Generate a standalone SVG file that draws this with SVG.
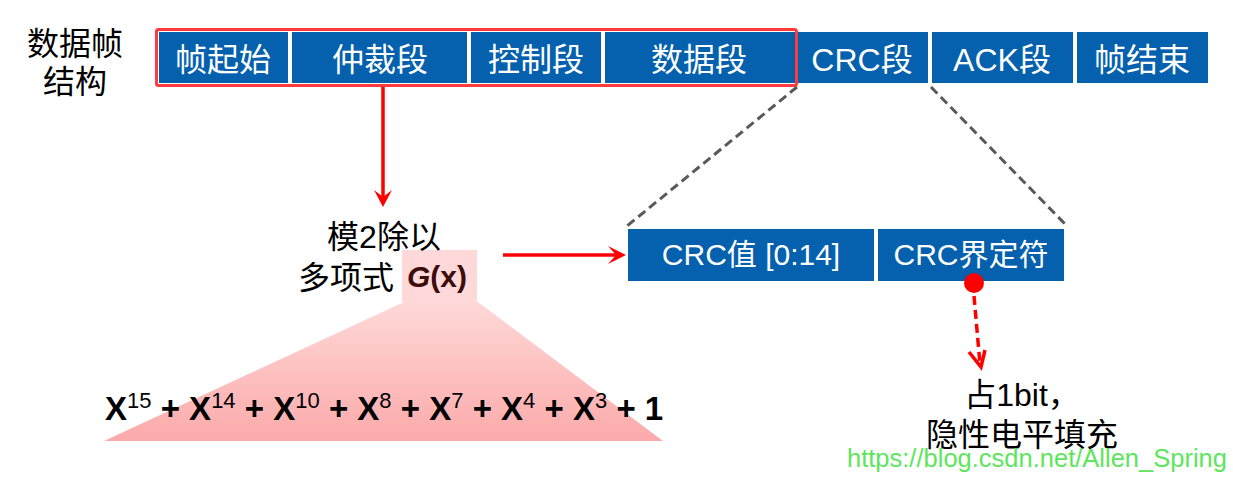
<svg xmlns="http://www.w3.org/2000/svg" width="1233" height="482" viewBox="0 0 1233 482">
<defs>
<style>
text{font-family:"Liberation Sans","Noto Sans CJK SC",sans-serif;}
.lbl{font-size:32px;fill:#000;text-anchor:middle;}
.bx{fill:#0561AE;}
.bt{font-size:32px;fill:#fff;text-anchor:middle;}
.bt2{font-size:30px;fill:#fff;text-anchor:middle;}
.gray{stroke:#595959;stroke-width:3;stroke-dasharray:9 5;fill:none;}
.red{stroke:#ff0000;stroke-width:3.5;fill:none;}
.poly{font-size:33px;font-weight:bold;fill:#000;}
.sup{font-size:22px;font-weight:normal;}
</style>
<linearGradient id="pinkg" x1="0" y1="0" x2="0" y2="1">
<stop offset="0" stop-color="#ffd8d8"/>
<stop offset="1" stop-color="#fbaaaa"/>
</linearGradient>
</defs>
<rect width="1233" height="482" fill="#fff"/>

<g id="title">
<text class="lbl" x="75" y="55">数据帧</text>
<text class="lbl" x="75" y="93">结构</text>
</g>

<g id="frame-fields">
<g id="f-sof"><rect class="bx" x="159" y="32" width="129" height="51"/><text class="bt" x="223" y="71">帧起始</text></g>
<g id="f-arb"><rect class="bx" x="292" y="32" width="175" height="51"/><text class="bt" x="380" y="71">仲裁段</text></g>
<g id="f-ctrl"><rect class="bx" x="471" y="32" width="130" height="51"/><text class="bt" x="536" y="71">控制段</text></g>
<g id="f-data"><rect class="bx" x="605" y="32" width="190" height="51"/><text class="bt" x="699" y="71">数据段</text></g>
<g id="f-crc"><rect class="bx" x="797" y="32" width="131" height="51"/><text class="bt" x="862" y="71">CRC段</text></g>
<g id="f-ack"><rect class="bx" x="932" y="32" width="141" height="51"/><text class="bt" x="1002" y="71">ACK段</text></g>
<g id="f-eof"><rect class="bx" x="1077" y="32" width="131" height="51"/><text class="bt" x="1142" y="71">帧结束</text></g>
<rect id="crc-range" x="156.5" y="29.5" width="640" height="56" rx="2" fill="none" stroke="#ff3b3b" stroke-width="3"/>
</g>

<g id="gx-node">
<path d="M404 302 L478 302 L663 441 L104 441 Z" fill="url(#pinkg)"/>
<rect x="402" y="250" width="75" height="52" fill="#ffd9d9"/>
<text class="lbl" x="384" y="248">模2除以</text>
<text style="font-size:32px" x="298" y="289">多项式</text>
<text x="407" y="287" style="font-size:30px;font-weight:bold;fill:#3d0c0c"><tspan font-style="italic">G</tspan>(x)</text>
</g>

<g id="polynomial">
<text class="poly" x="105" y="420">X<tspan class="sup" dy="-12">15</tspan><tspan dy="12"> + X</tspan><tspan class="sup" dy="-12">14</tspan><tspan dy="12"> + X</tspan><tspan class="sup" dy="-12">10</tspan><tspan dy="12"> + X</tspan><tspan class="sup" dy="-12">8</tspan><tspan dy="12"> + X</tspan><tspan class="sup" dy="-12">7</tspan><tspan dy="12"> + X</tspan><tspan class="sup" dy="-12">4</tspan><tspan dy="12"> + X</tspan><tspan class="sup" dy="-12">3</tspan><tspan dy="12"> + 1</tspan></text>
</g>

<g id="crc-detail">
<g id="crc-value"><rect class="bx" x="628" y="229" width="246" height="52"/><text class="bt2" x="751" y="265">CRC值 [0:14]</text></g>
<g id="crc-delim"><rect class="bx" x="878" y="229" width="186" height="52"/><text class="bt2" x="971" y="265">CRC界定符</text></g>
</g>

<g id="note">
<text class="lbl" x="1022" y="406">占1bit，</text>
<text class="lbl" x="1022" y="446">隐性电平填充</text>
</g>

<g id="connectors">
<line class="gray" x1="797" y1="87" x2="627" y2="226"/>
<line class="gray" x1="931" y1="87" x2="1067" y2="226"/>
<line class="red" x1="383" y1="87" x2="383" y2="197"/>
<polygon points="383,207 374,190 383,197 392,190" fill="#ff0000"/>
<line class="red" x1="503" y1="255" x2="616" y2="255"/>
<polygon points="626,255 608,246 616,255 608,264" fill="#ff0000"/>
<circle cx="974" cy="283" r="10" fill="#ff0000"/>
<line x1="974" y1="296" x2="980" y2="364" stroke="#ff0000" stroke-width="3.5" stroke-dasharray="9 5"/>
<polyline points="969,352 981,367 985,350" fill="none" stroke="#ff0000" stroke-width="3.5"/>
</g>

<text x="847" y="467" style="font-size:25.5px;fill:#5ce65c">https://blog.csdn.net/Allen_Spring</text>
</svg>
